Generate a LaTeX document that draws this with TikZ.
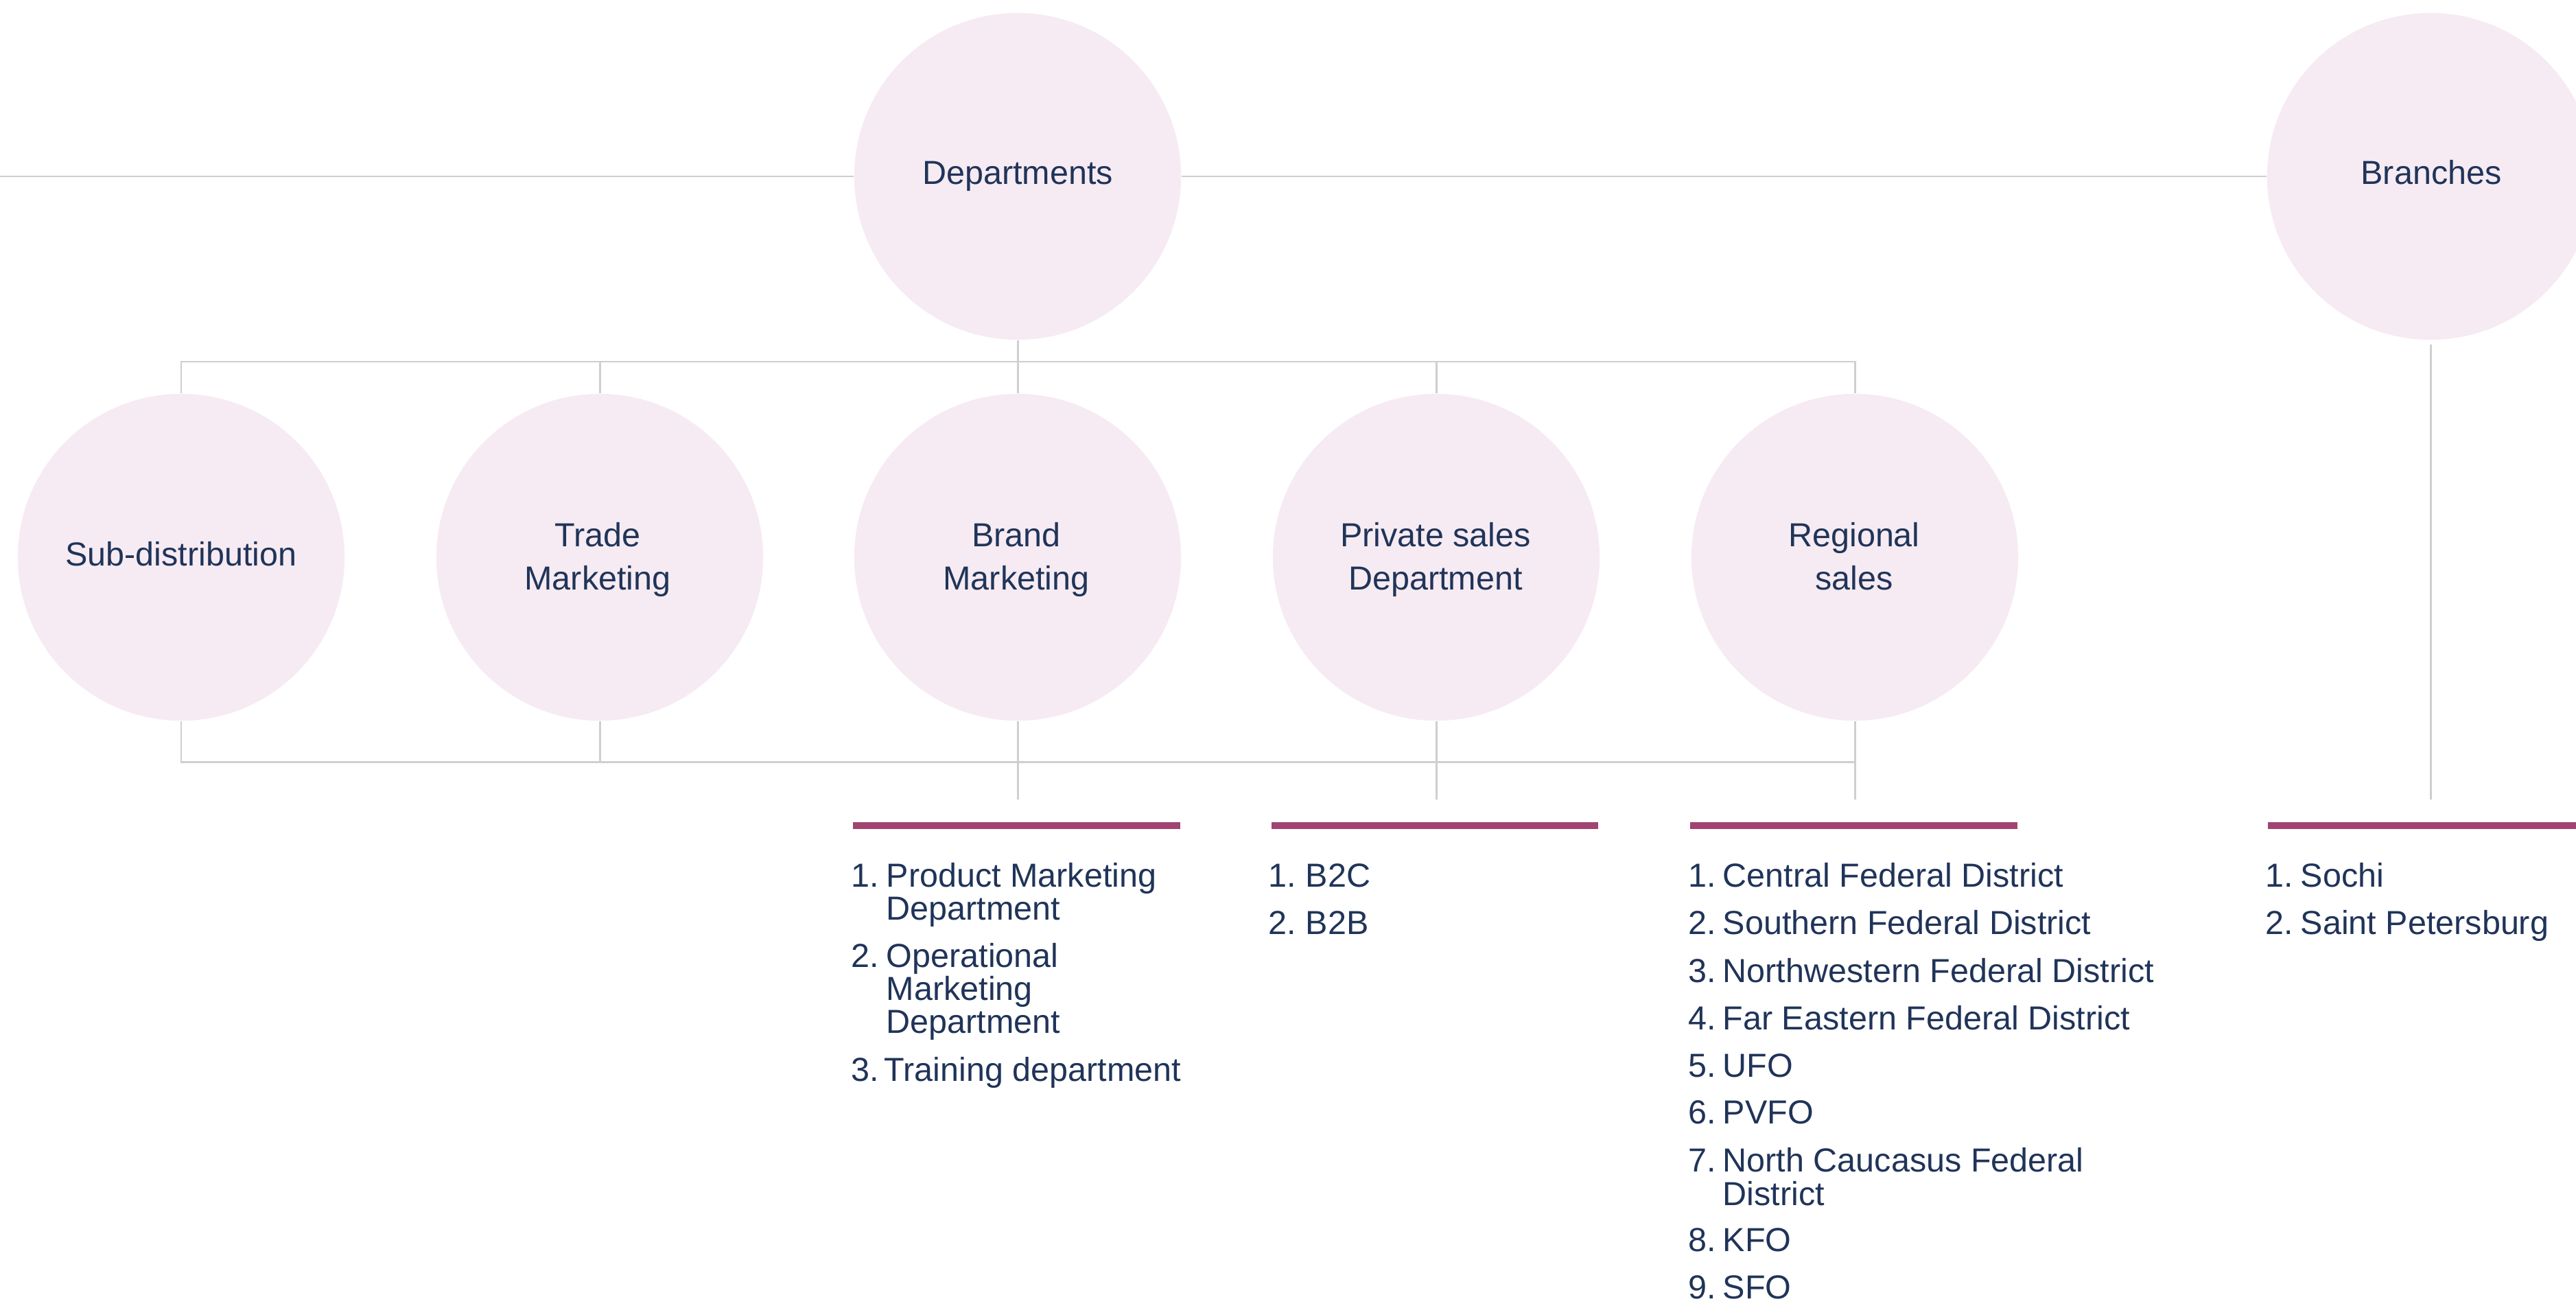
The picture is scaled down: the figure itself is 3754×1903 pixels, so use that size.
\documentclass[tikz,border=0pt]{standalone}
\usepackage{fontspec}
\setmainfont{Liberation Sans}
\definecolor{navy}{HTML}{203459}
\definecolor{pinkfill}{HTML}{F6EBF2}
\definecolor{linegray}{HTML}{D0CED0}
\definecolor{barmag}{HTML}{A04472}
\tikzset{
  circ/.style={circle, fill=pinkfill, draw=none, minimum size=4.76cm, inner sep=0pt},
  txt/.style={text=navy, font=\fontsize{13.8}{16}\selectfont, inner sep=0pt, anchor=base},
  itm/.style={txt, anchor=base west},
  conn/.style={draw=linegray, line width=0.85pt},
  barstyle/.style={fill=barmag, draw=none}
}
\begin{document}
\begin{tikzpicture}[x=0.01cm,y=-0.01cm]
\useasboundingbox (0,0) rectangle (3754,1903);
\clip (0,0) rectangle (3754,1903);
\fill[white] (0,0) rectangle (3754,1903);

% circles
\node[circ] (dep)   at (1483,257) {};
\node[circ] (br)    at (3542,257) {};
\node[circ] (sub)   at (264,812) {};
\node[circ] (trade) at (874,812) {};
\node[circ] (brand) at (1483,812) {};
\node[circ] (priv)  at (2093,812) {};
\node[circ] (reg)   at (2703,812) {};

% helper coordinates
\coordinate (lft) at (0,257);
\coordinate (tb) at (0,527);
\coordinate (bb) at (0,1110);
\coordinate (de) at (0,1165);

% connectors
\draw[conn] (lft) -- (dep.west);
\draw[conn] (dep.east) -- (br.west);
\draw[conn] (dep.south) -- (brand.north);
\draw[conn] (sub.north) -- (sub.north |- tb) -| (reg.north);
\draw[conn] (trade.north) -- (trade.north |- tb);
\draw[conn] (priv.north) -- (priv.north |- tb);
\draw[conn] (sub.south) -- (sub.south |- bb) -| (reg.south);
\draw[conn] (reg.south) -- (reg.south |- de);
\draw[conn] (trade.south) -- (trade.south |- bb);
\draw[conn] (brand.south) -- (brand.south |- de);
\draw[conn] (priv.south) -- (priv.south |- de);
\draw[conn] ([yshift=-0.06cm]br.south) -- (br.south |- de);

% bars
\fill[barstyle] (1243,1198) rectangle (1720,1208);
\fill[barstyle] (1853,1198) rectangle (2329,1208);
\fill[barstyle] (2463,1198) rectangle (2940,1208);
\fill[barstyle] (3305,1198) rectangle (3754,1208);

% circle labels
\node[txt] (depT)    at (1483,268.5) {Departments};
\node[txt] (brT)     at (3543,268.5) {Branches};
\node[txt] (subT)    at (264,824) {Sub-distribution};
\node[txt] (tradeA)  at (871,796) {Trade};
\node[txt] (tradeB)  at (871,859) {Marketing};
\node[txt] (brandA)  at (1481,796) {Brand};
\node[txt] (brandB)  at (1481,859) {Marketing};
\node[txt] (privA)   at (2092,796) {Private sales};
\node[txt] (privB)   at (2092,859) {Department};
\node[txt] (regA)    at (2702,796) {Regional};
\node[txt] (regB)    at (2702,859) {sales};

% brand list
\node[itm] (bn1) at (1240,1292) {1.};
\node[itm] (bl1) at (1291,1292) {Product Marketing};
\node[itm] (bl1b) at (1291,1340) {Department};
\node[itm] (bn2) at (1240,1409) {2.};
\node[itm] (bl2) at (1291,1409) {Operational};
\node[itm] (bl2b) at (1291,1457) {Marketing};
\node[itm] (bl2c) at (1291,1505) {Department};
\node[itm] (bn3) at (1240,1575) {3.};
\node[itm] (bl3) at (1288,1575) {Training department};

% private list
\node[itm] (pn1) at (1848,1292) {1.};
\node[itm] (pl1) at (1902,1292) {B2C};
\node[itm] (pn2) at (1848,1361) {2.};
\node[itm] (pl2) at (1902,1361) {B2B};

% regional list
\node[itm] (rn1) at (2460,1292) {1.};
\node[itm] (rl1) at (2510,1292) {Central Federal District};
\node[itm] (rn2) at (2460,1361) {2.};
\node[itm] (rl2) at (2510,1361) {Southern Federal District};
\node[itm] (rn3) at (2460,1431) {3.};
\node[itm] (rl3) at (2510,1431) {Northwestern Federal District};
\node[itm] (rn4) at (2460,1500) {4.};
\node[itm] (rl4) at (2510,1500) {Far Eastern Federal District};
\node[itm] (rn5) at (2460,1569) {5.};
\node[itm] (rl5) at (2510,1569) {UFO};
\node[itm] (rn6) at (2460,1637) {6.};
\node[itm] (rl6) at (2510,1637) {PVFO};
\node[itm] (rn7) at (2460,1707) {7.};
\node[itm] (rl7) at (2510,1707) {North Caucasus Federal};
\node[itm] (rl7b) at (2510,1756) {District};
\node[itm] (rn8) at (2460,1823) {8.};
\node[itm] (rl8) at (2510,1823) {KFO};
\node[itm] (rn9) at (2460,1892) {9.};
\node[itm] (rl9) at (2510,1892) {SFO};

% branches list
\node[itm] (sn1) at (3301,1292) {1.};
\node[itm] (sl1) at (3352,1292) {Sochi};
\node[itm] (sn2) at (3301,1361) {2.};
\node[itm] (sl2) at (3352,1361) {Saint Petersburg};
\end{tikzpicture}
\end{document}
